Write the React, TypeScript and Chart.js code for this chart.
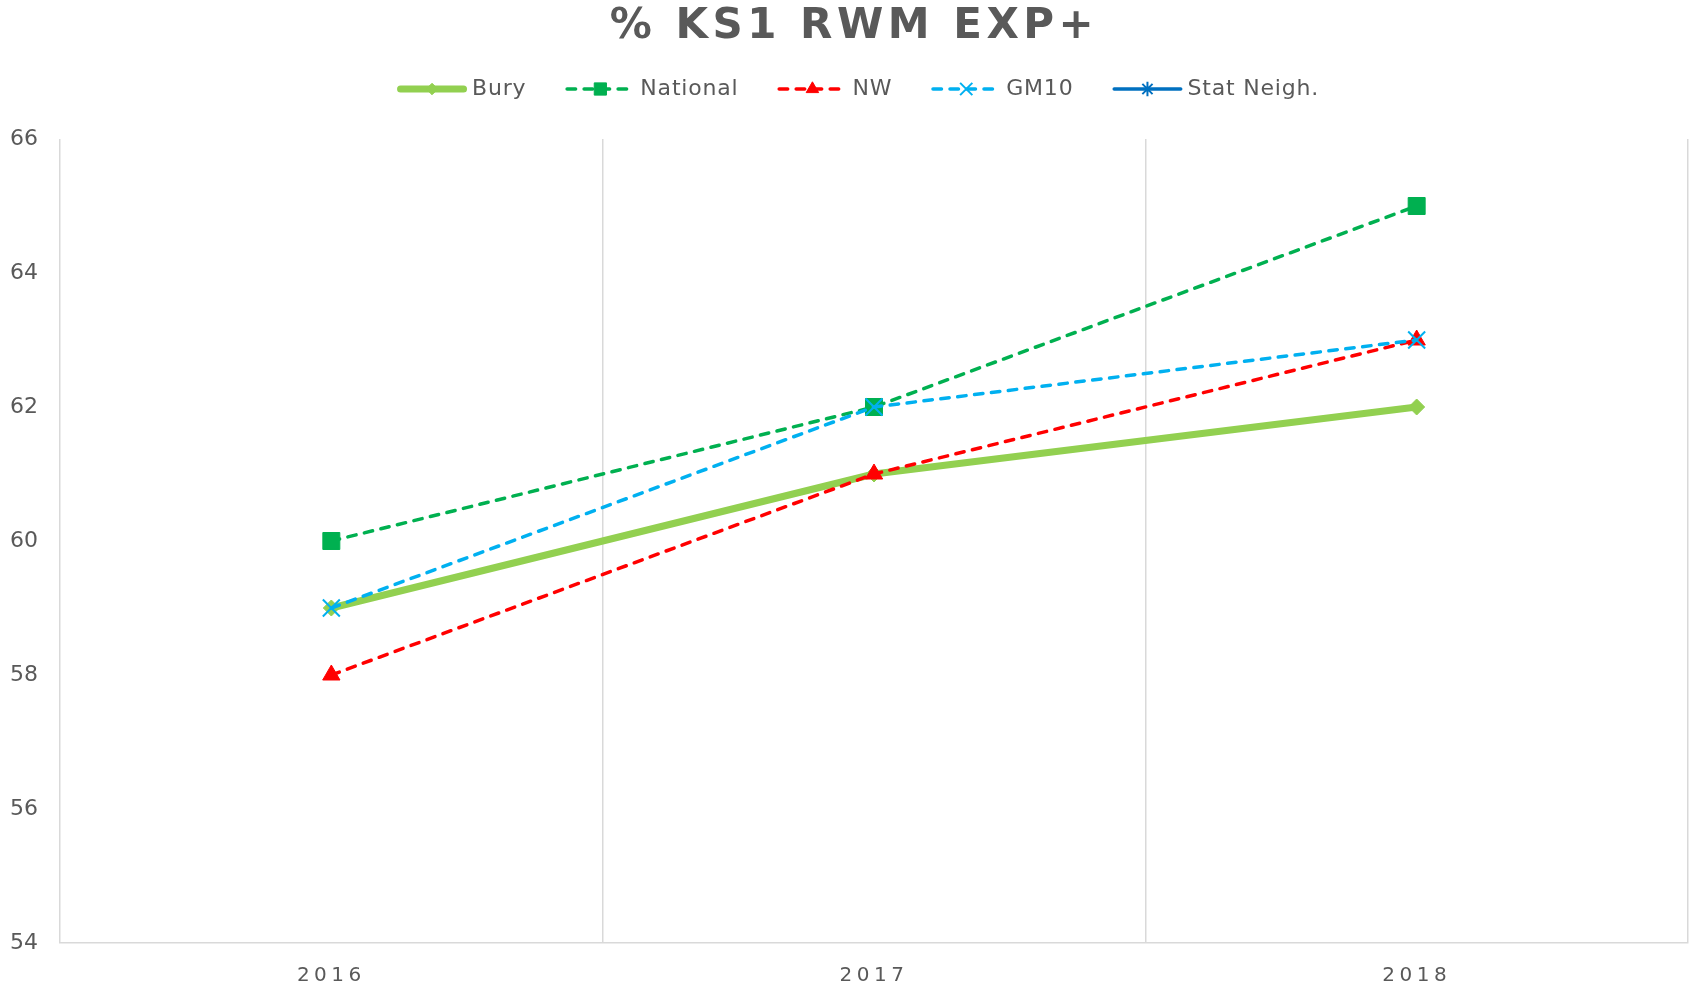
import React, { useEffect, useRef } from 'react';
import { Chart, registerables } from 'chart.js';
import { drawPoint } from 'chart.js/helpers';

Chart.register(...registerables);

const TITLE = '% KS1 RWM EXP+';
const years = ['2016', '2017', '2018'];
const bury = [59, 61, 62];
const national = [60, 62, 65];
const nw = [58, 61, 63];
const gm10 = [59, 62, 63];
const statNeigh: (number | null)[] = [null, null, null];
const yMin = 54;
const yMax = 66;
const yStep = 2;

const seriesNames = ['Bury', 'National', 'NW', 'GM10', 'Stat Neigh.'];
const seriesData = [bury, national, nw, gm10, statNeigh];
const seriesColors = ['#92d050', '#00b050', '#ff0000', '#00b0f0', '#0070c0'];
const seriesWidths = [7, 3.5, 3.5, 3.5, 3.5];
const seriesDashes = [[], [8.5, 8.5], [8.5, 8.5], [8.5, 8.5], []];
const seriesPoints = ['rectRot', 'rect', 'triangle', 'crossRot', 'star'];
const seriesRadii = [8, 12, 10, 12, 10];
const seriesPointBorder = [1, 1, 1, 2, 2];

const TEXT = '#595959';
const GRID = '#d9d9d9';

const overlayPlugin = {
  id: 'overlay',
  afterLayout(chart: any) {
    const s = chart.scales.x;
    if (s && !s._lsPatched) {
      const orig = s.drawLabels.bind(s);
      s.drawLabels = (ca: any) => {
        const ctx = chart.ctx;
        ctx.save();
        (ctx as any).letterSpacing = '4.5px';
        orig(ca);
        ctx.restore();
      };
      s._lsPatched = true;
    }
  },
  afterDraw(chart: any) {
    const ctx: CanvasRenderingContext2D = chart.ctx;
    ctx.save();
    // title
    ctx.font = 'bold 42px "DejaVu Sans"';
    (ctx as any).letterSpacing = '4.5px';
    ctx.fillStyle = TEXT;
    ctx.textAlign = 'center';
    ctx.textBaseline = 'middle';
    ctx.fillText(TITLE, 854, 27);

    // legend
    ctx.font = '22px "DejaVu Sans"';
    (ctx as any).letterSpacing = '0.8px';
    const lineLen = 70;
    const textGap = 5;
    const itemGap = 39;
    const widths = seriesNames.map((n) => ctx.measureText(n).width);
    let total = 0;
    widths.forEach((w, i) => {
      total += lineLen + textGap + w + (i > 0 ? itemGap : 0);
    });
    let x = 858 - total / 2;
    const y = 89;
    seriesNames.forEach((name, i) => {
      ctx.save();
      ctx.strokeStyle = seriesColors[i];
      ctx.lineWidth = seriesWidths[i];
      ctx.setLineDash(seriesDashes[i]);
      ctx.lineCap = 'round';
      ctx.beginPath();
      const cap = seriesWidths[i] / 2;
      ctx.moveTo(x + cap, y);
      ctx.lineTo(x + lineLen - cap, y);
      ctx.stroke();
      ctx.restore();
      ctx.save();
      ctx.fillStyle = seriesColors[i];
      ctx.strokeStyle = seriesColors[i];
      ctx.lineWidth = seriesPointBorder[i];
      drawPoint(ctx, {
        pointStyle: seriesPoints[i] as any,
        radius: seriesRadii[i] * 0.72,
        rotation: 0,
        borderWidth: seriesPointBorder[i],
      } as any, x + lineLen / 2, y);
      ctx.restore();
      ctx.fillStyle = TEXT;
      ctx.textAlign = 'left';
      ctx.textBaseline = 'middle';
      ctx.fillText(name, x + lineLen + textGap, y);
      x += lineLen + textGap + widths[i] + itemGap;
    });
    ctx.restore();
  },
};

export default function App() {
  const ref = useRef<HTMLCanvasElement | null>(null);
  useEffect(() => {
    if (!ref.current) return;
    Chart.defaults.font.family = '"DejaVu Sans"';
    const datasets = seriesNames.map((name, i) => ({
      label: name,
      data: seriesData[i],
      borderColor: seriesColors[i],
      backgroundColor: seriesColors[i],
      borderWidth: seriesWidths[i],
      borderDash: seriesDashes[i],
      borderCapStyle: 'round' as const,
      borderJoinStyle: 'round' as const,
      pointStyle: seriesPoints[i] as any,
      pointRadius: seriesRadii[i],
      pointBorderWidth: seriesPointBorder[i],
      pointBackgroundColor: seriesColors[i],
      pointBorderColor: seriesColors[i],
      tension: 0,
      fill: false,
      order: seriesNames.length - i,
    }));
    const chart = new Chart(ref.current, {
      type: 'line',
      data: { labels: years, datasets },
      plugins: [overlayPlugin],
      options: {
        responsive: false,
        animation: false,
        layout: { autoPadding: false, padding: { top: 139, right: 2, left: 0, bottom: 0 } },
        plugins: {
          legend: { display: false },
          title: { display: false },
          tooltip: { enabled: false },
        },
        scales: {
          x: {
            offset: true,
            grid: {
              display: true,
              offset: true,
              color: GRID,
              lineWidth: 1.5,
              drawTicks: false,
            },
            border: { display: true, color: GRID, width: 1.5 },
            ticks: {
              color: TEXT,
              font: { size: 20, family: '"DejaVu Sans"' },
              padding: 21,
              maxRotation: 0,
            },
            afterFit: (scale: any) => {
              scale.height = 44;
              scale.paddingLeft = 0;
              scale.paddingRight = 0;
            },
          },
          y: {
            min: yMin,
            max: yMax,
            grid: { display: false, drawTicks: false },
            border: { display: false },
            ticks: {
              stepSize: yStep,
              color: TEXT,
              font: { size: 22, family: '"DejaVu Sans"' },
              padding: 22,
            },
            afterFit: (scale: any) => {
              scale.width = 60;
            },
          },
        },
      },
    });
    return () => chart.destroy();
  }, []);
  return (
    <div style={{ position: 'fixed', left: 0, top: 0, width: 1690, height: 987, background: '#fff' }}>
      <canvas ref={ref} width={1690} height={987} style={{ display: 'block' }} />
    </div>
  );
}
